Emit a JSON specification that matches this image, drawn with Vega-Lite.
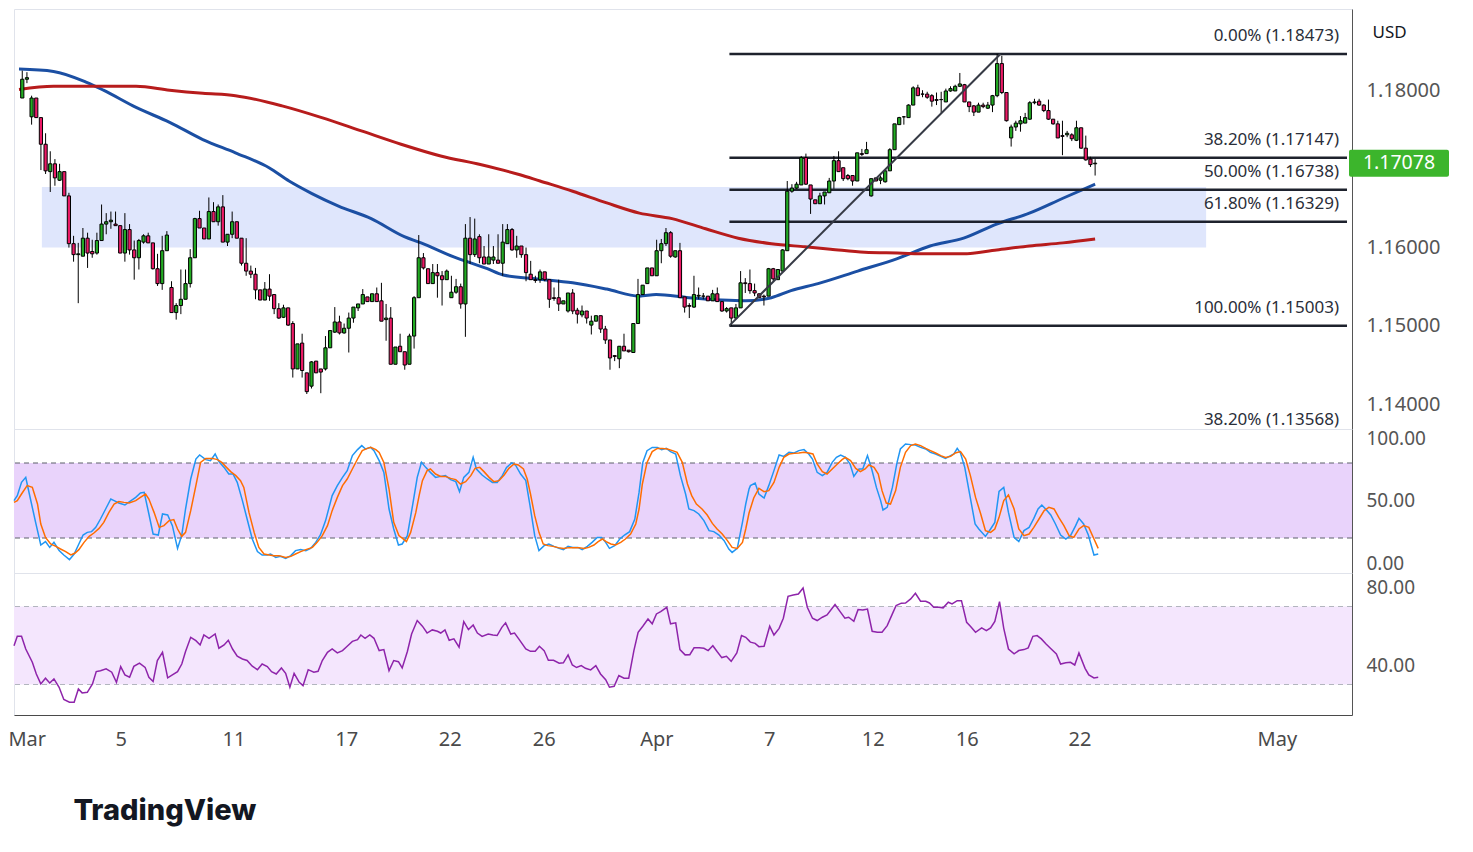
{
  "$schema": "https://vega.github.io/schema/vega-lite/v6.json",
  "background": "white",
  "padding": {"left": 7, "top": 8, "right": 5, "bottom": 5},
  "spacing": 0,
  "bounds": "flush",
  "title": {"text": "TradingView", "orient": "bottom", "anchor": "start", "font": "Inter", "fontSize": 29, "fontWeight": 800, "color": "#131722", "dx": 66, "offset": 47},
  "config": {
    "view": {"stroke": "#e0e3eb"},
    "font": "Noto Sans",
    "axis": {"grid": false, "ticks": false, "labelFont": "Noto Sans", "labelFontSize": 20, "labelColor": "#555555", "domainColor": "#555555", "labelOverlap": false, "labelFlush": false}
  },
  "datasets": {
    "zone": [{"x0": 4.2, "x1": 253.8, "p0": 1.16, "p1": 1.16774}],
    "trend": [{"x0": 151.6, "p0": 1.15003, "x1": 209.7, "p1": 1.18473}],
    "last": [{"p": 1.17078, "t": "1.17078"}],
    "fib": [
      {"from": 151.6, "p": 1.18473, "label": "0.00% (1.18473)"},
      {"from": 151.6, "p": 1.17147, "label": "38.20% (1.17147)"},
      {"from": 151.6, "p": 1.16738, "label": "50.00% (1.16738)"},
      {"from": 151.6, "p": 1.16329, "label": "61.80% (1.16329)"},
      {"from": 151.6, "p": 1.15003, "label": "100.00% (1.15003)"},
      {"from": 151.6, "p": 1.13568, "label": "38.20% (1.13568)"}
    ],
    "ma": [
      {"i": -0.7, "p": 1.1828, "s": "MA100"}, {"i": 6.7, "p": 1.1825, "s": "MA100"}, {"i": 13.8, "p": 1.1811, "s": "MA100"}, {"i": 17.4, "p": 1.1801, "s": "MA100"},
      {"i": 24.4, "p": 1.1779, "s": "MA100"}, {"i": 31.6, "p": 1.176, "s": "MA100"}, {"i": 38.7, "p": 1.1738, "s": "MA100"}, {"i": 45.7, "p": 1.1721, "s": "MA100"},
      {"i": 52.9, "p": 1.1702, "s": "MA100"}, {"i": 57.2, "p": 1.1685, "s": "MA100"}, {"i": 62.1, "p": 1.1669, "s": "MA100"}, {"i": 67.8, "p": 1.1653, "s": "MA100"},
      {"i": 74.8, "p": 1.1637, "s": "MA100"}, {"i": 81.9, "p": 1.1614, "s": "MA100"}, {"i": 85.5, "p": 1.1606, "s": "MA100"}, {"i": 92.5, "p": 1.1588, "s": "MA100"},
      {"i": 99.7, "p": 1.1573, "s": "MA100"}, {"i": 103.1, "p": 1.1565, "s": "MA100"}, {"i": 110.4, "p": 1.156, "s": "MA100"}, {"i": 118, "p": 1.1555, "s": "MA100"},
      {"i": 125.3, "p": 1.1547, "s": "MA100"}, {"i": 132.3, "p": 1.1538, "s": "MA100"}, {"i": 135.9, "p": 1.154, "s": "MA100"}, {"i": 142.9, "p": 1.1536, "s": "MA100"},
      {"i": 149.9, "p": 1.1533, "s": "MA100"}, {"i": 155, "p": 1.1532, "s": "MA100"}, {"i": 160.6, "p": 1.1536, "s": "MA100"}, {"i": 164.8, "p": 1.1545, "s": "MA100"},
      {"i": 170.6, "p": 1.1554, "s": "MA100"}, {"i": 179.1, "p": 1.157, "s": "MA100"}, {"i": 187.6, "p": 1.1586, "s": "MA100"}, {"i": 194.6, "p": 1.1602, "s": "MA100"},
      {"i": 201.8, "p": 1.1612, "s": "MA100"}, {"i": 208.9, "p": 1.163, "s": "MA100"}, {"i": 215.9, "p": 1.1644, "s": "MA100"}, {"i": 223.1, "p": 1.1663, "s": "MA100"},
      {"i": 230, "p": 1.1681, "s": "MA100"},
      {"i": -0.7, "p": 1.1802, "s": "MA200"}, {"i": 6.7, "p": 1.1806, "s": "MA200"}, {"i": 17.4, "p": 1.1806, "s": "MA200"}, {"i": 24.4, "p": 1.1806, "s": "MA200"},
      {"i": 31.6, "p": 1.1801, "s": "MA200"}, {"i": 38.7, "p": 1.1797, "s": "MA200"}, {"i": 45.7, "p": 1.1794, "s": "MA200"}, {"i": 55.7, "p": 1.1781, "s": "MA200"},
      {"i": 64.2, "p": 1.1766, "s": "MA200"}, {"i": 72.7, "p": 1.1749, "s": "MA200"}, {"i": 81.2, "p": 1.1732, "s": "MA200"}, {"i": 89.7, "p": 1.1717, "s": "MA200"},
      {"i": 98.2, "p": 1.1706, "s": "MA200"}, {"i": 106.7, "p": 1.1693, "s": "MA200"}, {"i": 111, "p": 1.1685, "s": "MA200"}, {"i": 118, "p": 1.1672, "s": "MA200"},
      {"i": 125.3, "p": 1.1657, "s": "MA200"}, {"i": 132.3, "p": 1.1644, "s": "MA200"}, {"i": 139.3, "p": 1.1637, "s": "MA200"}, {"i": 146.5, "p": 1.1624, "s": "MA200"},
      {"i": 153.5, "p": 1.1612, "s": "MA200"}, {"i": 160.6, "p": 1.1605, "s": "MA200"}, {"i": 167.8, "p": 1.1601, "s": "MA200"}, {"i": 173.3, "p": 1.1598, "s": "MA200"},
      {"i": 180.6, "p": 1.1594, "s": "MA200"}, {"i": 187.6, "p": 1.1593, "s": "MA200"}, {"i": 194.6, "p": 1.1592, "s": "MA200"}, {"i": 201.8, "p": 1.1592, "s": "MA200"},
      {"i": 208.9, "p": 1.1597, "s": "MA200"}, {"i": 215.9, "p": 1.1602, "s": "MA200"}, {"i": 223.1, "p": 1.1606, "s": "MA200"}, {"i": 230, "p": 1.1611, "s": "MA200"}
    ],
    "candles": [
      {"i":0,"o":1.1791,"h":1.1826,"l":1.1791,"c":1.1815},{"i":1,"o":1.1815,"h":1.1824,"l":1.181,"c":1.1817},{"i":2,"o":1.1767,"h":1.1794,"l":1.1757,"c":1.1791},
      {"i":3,"o":1.1791,"h":1.1791,"l":1.1766,"c":1.1766},{"i":4,"o":1.1766,"h":1.1766,"l":1.1699,"c":1.1732},{"i":5,"o":1.1732,"h":1.1746,"l":1.1694,"c":1.1698},
      {"i":6,"o":1.1697,"h":1.1723,"l":1.1671,"c":1.1707},{"i":7,"o":1.1707,"h":1.1713,"l":1.1679,"c":1.1689},{"i":8,"o":1.1686,"h":1.1707,"l":1.1685,"c":1.1697},
      {"i":9,"o":1.1697,"h":1.1697,"l":1.1666,"c":1.1666},{"i":10,"o":1.1666,"h":1.167,"l":1.16,"c":1.1605},{"i":11,"o":1.1605,"h":1.1615,"l":1.1582,"c":1.1591},
      {"i":12,"o":1.1591,"h":1.1606,"l":1.1529,"c":1.1592},{"i":13,"o":1.1589,"h":1.1625,"l":1.1589,"c":1.1612},{"i":14,"o":1.1612,"h":1.1619,"l":1.1574,"c":1.1593},
      {"i":15,"o":1.1595,"h":1.161,"l":1.1587,"c":1.1592},{"i":16,"o":1.1593,"h":1.1619,"l":1.1591,"c":1.1609},{"i":17,"o":1.1609,"h":1.1655,"l":1.1609,"c":1.163},
      {"i":18,"o":1.163,"h":1.1644,"l":1.1617,"c":1.1633},{"i":19,"o":1.1633,"h":1.1646,"l":1.1624,"c":1.1635},{"i":20,"o":1.163,"h":1.1646,"l":1.1628,"c":1.1628},
      {"i":21,"o":1.1628,"h":1.1628,"l":1.1593,"c":1.1593},{"i":22,"o":1.1593,"h":1.1644,"l":1.1582,"c":1.1623},{"i":23,"o":1.1623,"h":1.163,"l":1.1591,"c":1.1597},
      {"i":24,"o":1.1597,"h":1.1609,"l":1.1559,"c":1.1587},{"i":25,"o":1.1587,"h":1.1611,"l":1.1572,"c":1.1609},{"i":26,"o":1.1607,"h":1.1617,"l":1.1605,"c":1.1615},
      {"i":27,"o":1.1615,"h":1.1619,"l":1.1606,"c":1.1606},{"i":28,"o":1.1606,"h":1.1606,"l":1.1572,"c":1.1573},{"i":29,"o":1.1573,"h":1.1592,"l":1.1551,"c":1.1554},
      {"i":30,"o":1.1554,"h":1.1615,"l":1.1546,"c":1.1596},{"i":31,"o":1.1596,"h":1.1621,"l":1.1596,"c":1.1616},{"i":32,"o":1.1549,"h":1.1557,"l":1.1517,"c":1.1517},
      {"i":33,"o":1.1517,"h":1.1529,"l":1.1508,"c":1.1526},{"i":34,"o":1.1526,"h":1.1572,"l":1.1515,"c":1.1534},{"i":35,"o":1.1534,"h":1.1572,"l":1.1534,"c":1.1554},
      {"i":36,"o":1.1554,"h":1.1598,"l":1.1549,"c":1.1587},{"i":37,"o":1.1587,"h":1.1638,"l":1.1587,"c":1.1637},{"i":38,"o":1.1637,"h":1.1647,"l":1.1625,"c":1.1625},
      {"i":39,"o":1.1625,"h":1.1625,"l":1.1611,"c":1.1611},{"i":40,"o":1.1611,"h":1.1664,"l":1.1611,"c":1.1646},{"i":41,"o":1.1646,"h":1.1658,"l":1.1633,"c":1.1633},
      {"i":42,"o":1.1633,"h":1.1655,"l":1.1628,"c":1.1652},{"i":43,"o":1.1652,"h":1.1667,"l":1.1607,"c":1.1607},{"i":44,"o":1.1607,"h":1.1617,"l":1.1602,"c":1.1617},
      {"i":45,"o":1.1617,"h":1.1646,"l":1.1612,"c":1.1633},{"i":46,"o":1.1633,"h":1.1633,"l":1.1612,"c":1.1612},{"i":47,"o":1.1612,"h":1.1612,"l":1.1577,"c":1.158},
      {"i":48,"o":1.158,"h":1.1612,"l":1.1564,"c":1.157},{"i":49,"o":1.157,"h":1.1577,"l":1.1561,"c":1.1566},{"i":50,"o":1.1566,"h":1.1574,"l":1.1534,"c":1.1546},
      {"i":51,"o":1.1546,"h":1.1546,"l":1.1533,"c":1.1533},{"i":52,"o":1.1533,"h":1.1556,"l":1.1533,"c":1.1547},{"i":53,"o":1.1547,"h":1.1566,"l":1.1532,"c":1.1538},
      {"i":54,"o":1.154,"h":1.154,"l":1.1515,"c":1.1522},{"i":55,"o":1.1522,"h":1.1529,"l":1.1509,"c":1.151},{"i":56,"o":1.1511,"h":1.1527,"l":1.151,"c":1.1523},
      {"i":57,"o":1.1523,"h":1.1523,"l":1.15,"c":1.1501},{"i":58,"o":1.1503,"h":1.1506,"l":1.1434,"c":1.1445},{"i":59,"o":1.1445,"h":1.1477,"l":1.1445,"c":1.1477},
      {"i":60,"o":1.1478,"h":1.149,"l":1.1434,"c":1.1443},{"i":61,"o":1.144,"h":1.144,"l":1.1413,"c":1.1416},{"i":62,"o":1.1423,"h":1.1455,"l":1.142,"c":1.1454},
      {"i":63,"o":1.1455,"h":1.1455,"l":1.144,"c":1.144},{"i":64,"o":1.1445,"h":1.1445,"l":1.1414,"c":1.1441},{"i":65,"o":1.1445,"h":1.1487,"l":1.1443,"c":1.1472},
      {"i":66,"o":1.1472,"h":1.1494,"l":1.1472,"c":1.1494},{"i":67,"o":1.1492,"h":1.1524,"l":1.1491,"c":1.1505},{"i":68,"o":1.1505,"h":1.1513,"l":1.1489,"c":1.1491},
      {"i":69,"o":1.1491,"h":1.1503,"l":1.149,"c":1.1497},{"i":70,"o":1.1497,"h":1.1517,"l":1.1466,"c":1.151},{"i":71,"o":1.151,"h":1.1524,"l":1.1504,"c":1.1524},
      {"i":72,"o":1.1523,"h":1.1528,"l":1.1519,"c":1.1528},{"i":73,"o":1.1528,"h":1.1547,"l":1.1528,"c":1.154},{"i":74,"o":1.1537,"h":1.1537,"l":1.1531,"c":1.1531},
      {"i":75,"o":1.1531,"h":1.1541,"l":1.1531,"c":1.1541},{"i":76,"o":1.1541,"h":1.1549,"l":1.1531,"c":1.1531},{"i":77,"o":1.1532,"h":1.1555,"l":1.1506,"c":1.1506},
      {"i":78,"o":1.1508,"h":1.1528,"l":1.1481,"c":1.151},{"i":79,"o":1.151,"h":1.1524,"l":1.1451,"c":1.1451},{"i":80,"o":1.1451,"h":1.1473,"l":1.1451,"c":1.1473},
      {"i":81,"o":1.1474,"h":1.149,"l":1.1467,"c":1.1467},{"i":82,"o":1.1467,"h":1.1467,"l":1.1444,"c":1.145},{"i":83,"o":1.1451,"h":1.149,"l":1.1451,"c":1.1487},
      {"i":84,"o":1.1487,"h":1.1538,"l":1.1471,"c":1.1536},{"i":85,"o":1.1536,"h":1.1616,"l":1.1536,"c":1.1587},{"i":86,"o":1.1587,"h":1.1593,"l":1.1572,"c":1.1574},
      {"i":87,"o":1.1573,"h":1.1573,"l":1.1554,"c":1.1554},{"i":88,"o":1.1554,"h":1.1579,"l":1.1554,"c":1.1568},{"i":89,"o":1.1568,"h":1.1579,"l":1.1536,"c":1.1564},
      {"i":90,"o":1.1564,"h":1.157,"l":1.1526,"c":1.1559},{"i":91,"o":1.1559,"h":1.1572,"l":1.1559,"c":1.157},{"i":92,"o":1.1536,"h":1.1564,"l":1.1536,"c":1.1543},
      {"i":93,"o":1.1543,"h":1.156,"l":1.1541,"c":1.155},{"i":94,"o":1.155,"h":1.1554,"l":1.1522,"c":1.1528},{"i":95,"o":1.1528,"h":1.163,"l":1.1486,"c":1.1612},
      {"i":96,"o":1.1612,"h":1.1639,"l":1.1579,"c":1.1591},{"i":97,"o":1.1591,"h":1.1637,"l":1.1588,"c":1.1611},{"i":98,"o":1.1614,"h":1.1617,"l":1.158,"c":1.1587},
      {"i":99,"o":1.1588,"h":1.1602,"l":1.1579,"c":1.1579},{"i":100,"o":1.1579,"h":1.1617,"l":1.1579,"c":1.1588},{"i":101,"o":1.1584,"h":1.1602,"l":1.1579,"c":1.1588},
      {"i":102,"o":1.1584,"h":1.1617,"l":1.158,"c":1.158},{"i":103,"o":1.158,"h":1.163,"l":1.1564,"c":1.1607},{"i":104,"o":1.1605,"h":1.163,"l":1.1605,"c":1.1623},
      {"i":105,"o":1.1623,"h":1.1625,"l":1.1596,"c":1.1597},{"i":106,"o":1.1597,"h":1.1615,"l":1.1587,"c":1.1602},{"i":107,"o":1.1602,"h":1.1602,"l":1.1587,"c":1.1591},
      {"i":108,"o":1.1591,"h":1.16,"l":1.1557,"c":1.1568},{"i":109,"o":1.1566,"h":1.1583,"l":1.1559,"c":1.1559},{"i":110,"o":1.1559,"h":1.1564,"l":1.1555,"c":1.1558},
      {"i":111,"o":1.1559,"h":1.1572,"l":1.1555,"c":1.1569},{"i":112,"o":1.1569,"h":1.1569,"l":1.1557,"c":1.1559},{"i":113,"o":1.1559,"h":1.1559,"l":1.1523,"c":1.1534},
      {"i":114,"o":1.1536,"h":1.1549,"l":1.1532,"c":1.1535},{"i":115,"o":1.1536,"h":1.1559,"l":1.1519,"c":1.1528},{"i":116,"o":1.1528,"h":1.1532,"l":1.1528,"c":1.1532},
      {"i":117,"o":1.1519,"h":1.1542,"l":1.1517,"c":1.1542},{"i":118,"o":1.1542,"h":1.1547,"l":1.1515,"c":1.1519},{"i":119,"o":1.152,"h":1.1523,"l":1.1503,"c":1.1515},
      {"i":120,"o":1.1514,"h":1.1526,"l":1.1511,"c":1.1519},{"i":121,"o":1.1519,"h":1.1519,"l":1.1503,"c":1.151},{"i":122,"o":1.1501,"h":1.1513,"l":1.1489,"c":1.1506},
      {"i":123,"o":1.1506,"h":1.1513,"l":1.1506,"c":1.1513},{"i":124,"o":1.1513,"h":1.1513,"l":1.1491,"c":1.1496},{"i":125,"o":1.1496,"h":1.15,"l":1.1477,"c":1.1482},
      {"i":126,"o":1.1482,"h":1.1482,"l":1.1444,"c":1.1459},{"i":127,"o":1.1462,"h":1.1462,"l":1.1455,"c":1.1461},{"i":128,"o":1.1458,"h":1.1474,"l":1.1446,"c":1.1474},
      {"i":129,"o":1.1474,"h":1.149,"l":1.1468,"c":1.1468},{"i":130,"o":1.1469,"h":1.1469,"l":1.1466,"c":1.1467},{"i":131,"o":1.1466,"h":1.1503,"l":1.1466,"c":1.1503},
      {"i":132,"o":1.1503,"h":1.156,"l":1.1503,"c":1.154},{"i":133,"o":1.154,"h":1.1552,"l":1.154,"c":1.1552},{"i":134,"o":1.1554,"h":1.1574,"l":1.1554,"c":1.1574},
      {"i":135,"o":1.1574,"h":1.1574,"l":1.1564,"c":1.1564},{"i":136,"o":1.1564,"h":1.161,"l":1.1564,"c":1.1596},{"i":137,"o":1.1596,"h":1.1611,"l":1.158,"c":1.1605},
      {"i":138,"o":1.1605,"h":1.1625,"l":1.1602,"c":1.1619},{"i":139,"o":1.1619,"h":1.1621,"l":1.1587,"c":1.1589},{"i":140,"o":1.1588,"h":1.1596,"l":1.1587,"c":1.1596},
      {"i":141,"o":1.1596,"h":1.1606,"l":1.1536,"c":1.1536},{"i":142,"o":1.1537,"h":1.1537,"l":1.1517,"c":1.1524},{"i":143,"o":1.1526,"h":1.1529,"l":1.151,"c":1.1525},
      {"i":144,"o":1.1524,"h":1.1564,"l":1.1523,"c":1.154},{"i":145,"o":1.1538,"h":1.1549,"l":1.1534,"c":1.1539},{"i":146,"o":1.1538,"h":1.1542,"l":1.1534,"c":1.1538},
      {"i":147,"o":1.1538,"h":1.1538,"l":1.1532,"c":1.1532},{"i":148,"o":1.1532,"h":1.1546,"l":1.1532,"c":1.1541},{"i":149,"o":1.1541,"h":1.1549,"l":1.1531,"c":1.1531},
      {"i":150,"o":1.1531,"h":1.1531,"l":1.1518,"c":1.1519},{"i":151,"o":1.1519,"h":1.1524,"l":1.1517,"c":1.1522},{"i":152,"o":1.1523,"h":1.1523,"l":1.15,"c":1.151},
      {"i":153,"o":1.151,"h":1.1528,"l":1.1509,"c":1.1523},{"i":154,"o":1.1523,"h":1.157,"l":1.1523,"c":1.1555},{"i":155,"o":1.1555,"h":1.1561,"l":1.1542,"c":1.1554},
      {"i":156,"o":1.1554,"h":1.1572,"l":1.1541,"c":1.1545},{"i":157,"o":1.1545,"h":1.1554,"l":1.1538,"c":1.1542},{"i":158,"o":1.1541,"h":1.1541,"l":1.1536,"c":1.1536},
      {"i":159,"o":1.1538,"h":1.154,"l":1.1526,"c":1.1537},{"i":160,"o":1.1538,"h":1.1574,"l":1.1538,"c":1.1573},{"i":161,"o":1.1573,"h":1.1574,"l":1.1557,"c":1.156},
      {"i":162,"o":1.1559,"h":1.1572,"l":1.1559,"c":1.1572},{"i":163,"o":1.157,"h":1.1598,"l":1.157,"c":1.1597},{"i":164,"o":1.1596,"h":1.1685,"l":1.1596,"c":1.1672},
      {"i":165,"o":1.1672,"h":1.1681,"l":1.167,"c":1.1676},{"i":166,"o":1.1676,"h":1.1684,"l":1.1675,"c":1.1681},{"i":167,"o":1.168,"h":1.1717,"l":1.168,"c":1.1715},
      {"i":168,"o":1.1715,"h":1.172,"l":1.168,"c":1.1681},{"i":169,"o":1.168,"h":1.168,"l":1.1643,"c":1.1662},{"i":170,"o":1.1661,"h":1.1661,"l":1.1656,"c":1.1656},
      {"i":171,"o":1.1656,"h":1.167,"l":1.1656,"c":1.1666},{"i":172,"o":1.1666,"h":1.1671,"l":1.1655,"c":1.1671},{"i":173,"o":1.167,"h":1.1689,"l":1.167,"c":1.1685},
      {"i":174,"o":1.1685,"h":1.1717,"l":1.1675,"c":1.1711},{"i":175,"o":1.1711,"h":1.1723,"l":1.1697,"c":1.1697},{"i":176,"o":1.1702,"h":1.1702,"l":1.1685,"c":1.1688},
      {"i":177,"o":1.1692,"h":1.1694,"l":1.1686,"c":1.1688},{"i":178,"o":1.1692,"h":1.1692,"l":1.1679,"c":1.1685},{"i":179,"o":1.1685,"h":1.1721,"l":1.1685,"c":1.1721},
      {"i":180,"o":1.172,"h":1.1726,"l":1.1717,"c":1.1719},{"i":181,"o":1.172,"h":1.1735,"l":1.172,"c":1.1725},{"i":182,"o":1.1666,"h":1.1688,"l":1.1665,"c":1.1688},
      {"i":183,"o":1.1689,"h":1.1689,"l":1.1685,"c":1.1685},{"i":184,"o":1.1686,"h":1.1692,"l":1.1681,"c":1.1689},{"i":185,"o":1.1684,"h":1.1699,"l":1.1683,"c":1.1698},
      {"i":186,"o":1.1698,"h":1.1727,"l":1.1698,"c":1.1725},{"i":187,"o":1.1725,"h":1.1758,"l":1.1725,"c":1.1758},{"i":188,"o":1.1757,"h":1.1767,"l":1.1757,"c":1.1766},
      {"i":189,"o":1.1767,"h":1.1768,"l":1.1757,"c":1.1767},{"i":190,"o":1.1766,"h":1.1783,"l":1.1766,"c":1.1782},{"i":191,"o":1.1782,"h":1.1806,"l":1.1782,"c":1.1804},
      {"i":192,"o":1.1804,"h":1.1808,"l":1.1794,"c":1.1794},{"i":193,"o":1.1796,"h":1.1801,"l":1.1792,"c":1.1796},{"i":194,"o":1.1796,"h":1.1799,"l":1.179,"c":1.1792},
      {"i":195,"o":1.1794,"h":1.1796,"l":1.178,"c":1.1787},{"i":196,"o":1.1789,"h":1.1798,"l":1.1782,"c":1.1788},{"i":197,"o":1.1789,"h":1.1799,"l":1.1772,"c":1.1789},
      {"i":198,"o":1.1786,"h":1.1803,"l":1.1786,"c":1.18},{"i":199,"o":1.18,"h":1.1806,"l":1.1799,"c":1.1803},{"i":200,"o":1.18,"h":1.1808,"l":1.18,"c":1.1806},
      {"i":201,"o":1.1806,"h":1.1823,"l":1.1805,"c":1.1809},{"i":202,"o":1.1808,"h":1.1809,"l":1.1786,"c":1.1786},{"i":203,"o":1.1786,"h":1.1786,"l":1.1773,"c":1.178},
      {"i":204,"o":1.1781,"h":1.1782,"l":1.1768,"c":1.1773},{"i":205,"o":1.1773,"h":1.1785,"l":1.1773,"c":1.1782},{"i":206,"o":1.1782,"h":1.1785,"l":1.1778,"c":1.178},
      {"i":207,"o":1.1778,"h":1.1786,"l":1.1777,"c":1.1782},{"i":208,"o":1.1782,"h":1.1795,"l":1.1773,"c":1.1794},{"i":209,"o":1.1794,"h":1.18473,"l":1.1792,"c":1.1835},
      {"i":210,"o":1.1835,"h":1.1845,"l":1.1796,"c":1.1798},{"i":211,"o":1.1798,"h":1.1798,"l":1.1761,"c":1.1762},{"i":212,"o":1.174,"h":1.1757,"l":1.1729,"c":1.1754},
      {"i":213,"o":1.1754,"h":1.1762,"l":1.1749,"c":1.1759},{"i":214,"o":1.1758,"h":1.1768,"l":1.1748,"c":1.1762},{"i":215,"o":1.1759,"h":1.1772,"l":1.1759,"c":1.1766},
      {"i":216,"o":1.1764,"h":1.1787,"l":1.1763,"c":1.1785},{"i":217,"o":1.1785,"h":1.179,"l":1.1783,"c":1.1786},{"i":218,"o":1.1787,"h":1.179,"l":1.1781,"c":1.1782},
      {"i":219,"o":1.1782,"h":1.1783,"l":1.1773,"c":1.1775},{"i":220,"o":1.1775,"h":1.1789,"l":1.1763,"c":1.1764},{"i":221,"o":1.1764,"h":1.1764,"l":1.1757,"c":1.1758},
      {"i":222,"o":1.1758,"h":1.1762,"l":1.174,"c":1.174},{"i":223,"o":1.1743,"h":1.1762,"l":1.1718,"c":1.1742},{"i":224,"o":1.1744,"h":1.1749,"l":1.1741,"c":1.1746},
      {"i":225,"o":1.1744,"h":1.1746,"l":1.1736,"c":1.1739},{"i":226,"o":1.1737,"h":1.1762,"l":1.1736,"c":1.1753},{"i":227,"o":1.1753,"h":1.1753,"l":1.1726,"c":1.1727},
      {"i":228,"o":1.1727,"h":1.1743,"l":1.1711,"c":1.1712},{"i":229,"o":1.1713,"h":1.1716,"l":1.1703,"c":1.1706},{"i":230,"o":1.1707,"h":1.1713,"l":1.1692,"c":1.17078}
    ],
    "k": [
      {"i":-0.7,"v":49.9},{"i":0,"v":53.9},{"i":0.9,"v":64.5},{"i":1.8,"v":68.5},{"i":2.8,"v":51.2},{"i":3.9,"v":32.5},{"i":5,"v":14.4},{"i":6,"v":17.1},{"i":6.9,"v":12.5},{"i":7.8,"v":16.5},
      {"i":8.9,"v":9.9},{"i":9.9,"v":6.4},{"i":11.1,"v":2.7},{"i":12.1,"v":7.2},{"i":13.1,"v":15.2},{"i":14,"v":22.4},{"i":14.9,"v":24.5},{"i":15.8,"v":25.1},{"i":16.7,"v":28.5},{"i":17.7,"v":35.2},
      {"i":18.8,"v":43.2},{"i":19.9,"v":51.2},{"i":20.6,"v":49.9},{"i":21.6,"v":48},{"i":22.9,"v":46.4},{"i":23.9,"v":49.1},{"i":25.2,"v":52.5},{"i":26.2,"v":56},{"i":27,"v":56.5},{"i":28,"v":39.2},
      {"i":28.9,"v":23.2},{"i":30,"v":22.4},{"i":30.9,"v":39.2},{"i":32,"v":38.4},{"i":33,"v":29.9},{"i":34.1,"v":11.7},{"i":35,"v":22.4},{"i":35.8,"v":43.2},{"i":36.9,"v":67.2},{"i":38,"v":83.2},
      {"i":38.8,"v":86.4},{"i":40.1,"v":82.7},{"i":41.1,"v":81.9},{"i":42.1,"v":87.2},{"i":42.9,"v":81.1},{"i":44,"v":76.5},{"i":45,"v":71.2},{"i":45.9,"v":71.2},{"i":46.8,"v":64.5},{"i":47.9,"v":49.9},
      {"i":48.9,"v":35.2},{"i":50,"v":19.2},{"i":51.1,"v":9.1},{"i":52.1,"v":6.4},{"i":53.2,"v":6.4},{"i":53.9,"v":7.2},{"i":55,"v":4.5},{"i":56,"v":5.3},{"i":57.1,"v":3.7},{"i":58.2,"v":5.9},
      {"i":59.2,"v":9.9},{"i":60.3,"v":10.7},{"i":61.4,"v":9.9},{"i":62.4,"v":11.7},{"i":63.5,"v":16.5},{"i":64.5,"v":22.4},{"i":65.6,"v":33.9},{"i":67,"v":53.9},{"i":68.1,"v":61.9},{"i":69.2,"v":68.5},
      {"i":70.2,"v":73.9},{"i":71.3,"v":85.9},{"i":72.4,"v":90.7},{"i":73.3,"v":93.9},{"i":74.1,"v":91.2},{"i":75.2,"v":92.5},{"i":75.9,"v":89.9},{"i":77,"v":81.9},
      {"i":78,"v":72.5},{"i":79.1,"v":43.2},{"i":80.1,"v":27.2},{"i":81.1,"v":14.4},{"i":81.9,"v":15.2},{"i":83,"v":21.9},{"i":84.1,"v":45.9},{"i":85.1,"v":68.5},{"i":86,"v":80.5},{"i":86.9,"v":76.5},
      {"i":87.9,"v":72.5},{"i":89,"v":68.5},{"i":90.1,"v":69.3},{"i":91.1,"v":69.9},{"i":92.2,"v":66.7},{"i":93.3,"v":65.1},{"i":94.1,"v":57.1},{"i":95,"v":68.5},{"i":96.1,"v":72.5},{"i":97,"v":84.5},
      {"i":97.7,"v":75.2},{"i":98.9,"v":70.4},{"i":100,"v":67.2},{"i":101.1,"v":64.5},{"i":102.1,"v":64.5},{"i":103.2,"v":69.9},{"i":104.1,"v":76.5},{"i":105.2,"v":80},{"i":106,"v":78.4},{"i":107.1,"v":71.2},
      {"i":108.2,"v":65.9},{"i":109.1,"v":45.9},{"i":110.1,"v":21.9},{"i":111,"v":9.9},{"i":112.1,"v":13.9},{"i":113.1,"v":15.2},{"i":114.2,"v":13.3},{"i":115.3,"v":11.7},{"i":116.2,"v":10.7},{"i":117.2,"v":13.3},
      {"i":118.2,"v":12.5},{"i":119.3,"v":12.5},{"i":120.2,"v":10.7},{"i":121.3,"v":13.3},{"i":122.3,"v":16.5},{"i":123.4,"v":20.5},{"i":124.3,"v":20.5},{"i":125.2,"v":16.5},{"i":126,"v":11.7},{"i":127.1,"v":13.9},
      {"i":128.2,"v":19.2},{"i":129.2,"v":22.4},{"i":130.3,"v":25.1},{"i":131.4,"v":35.2},{"i":132.3,"v":56.5},{"i":133.1,"v":80.5},{"i":134,"v":89.9},{"i":135.1,"v":92.5},{"i":136.2,"v":92.5},{"i":137.1,"v":90.7},
      {"i":138.1,"v":91.7},{"i":139,"v":89.1},{"i":140.1,"v":87.2},{"i":141.1,"v":69.9},{"i":142.2,"v":55.2},{"i":142.9,"v":43.2},{"i":144,"v":41.9},{"i":145,"v":39.2},{"i":146.1,"v":33.9},{"i":147.2,"v":25.9},
      {"i":148.2,"v":25.1},{"i":149.3,"v":22.4},{"i":150.4,"v":17.9},{"i":151.4,"v":11.2},{"i":152.1,"v":8.5},{"i":153.2,"v":11.7},{"i":154.3,"v":32.5},{"i":155,"v":47.2},{"i":155.7,"v":59.2},
      {"i":156,"v":61.9},{"i":157,"v":64},{"i":157.8,"v":55.2},{"i":158.9,"v":52},{"i":159.9,"v":61.9},{"i":161,"v":73.9},{"i":162.1,"v":86.4},{"i":163.1,"v":85.3},{"i":164.2,"v":88.5},{"i":165.3,"v":88},
      {"i":166.3,"v":89.9},{"i":167.4,"v":90.7},{"i":168.4,"v":87.2},{"i":169.2,"v":83.2},{"i":170.2,"v":72.5},{"i":171.3,"v":69.9},{"i":172.3,"v":72.5},{"i":173.4,"v":80.5},{"i":174.3,"v":84.5},{"i":175.2,"v":86.4},
      {"i":176.2,"v":84.5},{"i":177.2,"v":79.2},{"i":178,"v":69.3},{"i":179.1,"v":75.2},{"i":179.9,"v":75.2},{"i":180.9,"v":85.9},{"i":181.8,"v":75.2},{"i":182.8,"v":60.5},{"i":183.7,"v":49.9},{"i":184.2,"v":42.4},
      {"i":185.1,"v":44.5},{"i":186.2,"v":60.5},{"i":187.2,"v":80.5},{"i":187.9,"v":91.2},{"i":189,"v":95.2},{"i":190.1,"v":94.7},{"i":191.1,"v":94.4},{"i":192.2,"v":92.5},{"i":193.3,"v":91.2},{"i":194.3,"v":88.5},
      {"i":195.4,"v":87.2},{"i":196.5,"v":85.3},{"i":197.5,"v":83.7},{"i":198.6,"v":85.9},{"i":199.3,"v":87.2},{"i":200,"v":91.7},{"i":200.7,"v":88},{"i":201.6,"v":76.5},{"i":202.7,"v":53.9},{"i":203.8,"v":31.2},
      {"i":204.6,"v":27.2},{"i":206,"v":21.3},{"i":207.1,"v":27.2},{"i":208,"v":32.5},{"i":208.9,"v":57.3},{"i":209.9,"v":60.5},{"i":210.9,"v":40.5},{"i":212.1,"v":20.5},{"i":213.1,"v":17.1},{"i":214.2,"v":25.9},
      {"i":215.3,"v":28.5},{"i":216.3,"v":35.7},{"i":217.2,"v":43.2},{"i":218,"v":46.4},{"i":218.8,"v":43.2},{"i":219.9,"v":38.4},{"i":220.9,"v":31.2},{"i":222,"v":22.4},{"i":223.1,"v":19.2},{"i":224.1,"v":21.9},
      {"i":225.2,"v":29.9},{"i":225.9,"v":35.7},{"i":226.9,"v":31.2},{"i":227.9,"v":22.4},{"i":229.1,"v":6.4},{"i":230,"v":7.2}
    ],
    "d": [
      {"i":-0.7,"v":48.5},{"i":0,"v":49.9},{"i":0.9,"v":55.2},{"i":2.1,"v":61.9},{"i":3.2,"v":60.5},{"i":4.3,"v":47.2},{"i":5,"v":31.2},{"i":6,"v":20.5},{"i":7.1,"v":15.2},{"i":8.2,"v":13.3},
      {"i":9.2,"v":11.2},{"i":10.3,"v":9.1},{"i":11.4,"v":6.4},{"i":12.3,"v":8},{"i":13.1,"v":10.7},{"i":14.2,"v":16.5},{"i":15.3,"v":21.3},{"i":16.3,"v":24},{"i":17.4,"v":27.7},{"i":18.4,"v":32.5},
      {"i":19.5,"v":40.5},{"i":20.6,"v":47.2},{"i":21.6,"v":49.1},{"i":22.7,"v":48.5},{"i":23.8,"v":48},{"i":25.2,"v":49.9},{"i":26.2,"v":52.5},{"i":27.3,"v":55.2},{"i":28,"v":51.2},{"i":29.1,"v":40.5},
      {"i":30.2,"v":28.5},{"i":31.2,"v":29.9},{"i":32.3,"v":33.9},{"i":33.3,"v":34.7},{"i":34.1,"v":27.2},{"i":35,"v":21.3},{"i":35.8,"v":24.5},{"i":36.9,"v":41.9},{"i":38,"v":61.9},{"i":39,"v":80.5},
      {"i":40.1,"v":83.7},{"i":41.5,"v":83.7},{"i":42.6,"v":82.7},{"i":43.5,"v":80.5},{"i":44.3,"v":77.3},{"i":45.4,"v":73.1},{"i":46.5,"v":69.9},{"i":47.5,"v":65.9},{"i":48.2,"v":60.5},{"i":49.3,"v":40.5},
      {"i":50.4,"v":24.5},{"i":51.4,"v":12.5},{"i":52.5,"v":7.2},{"i":53.6,"v":6.4},{"i":54.6,"v":5.9},{"i":55.7,"v":5.9},{"i":57.1,"v":4.5},{"i":58.2,"v":5.3},{"i":59.2,"v":7.2},{"i":60.3,"v":9.1},
      {"i":61.4,"v":10.7},{"i":62.8,"v":12.5},{"i":63.8,"v":16.5},{"i":64.9,"v":21.9},{"i":66,"v":29.9},{"i":67,"v":41.9},{"i":68.1,"v":52.5},{"i":69.2,"v":61.9},{"i":70.2,"v":67.2},{"i":71.3,"v":75.2},
      {"i":72.4,"v":83.2},{"i":73.4,"v":89.9},{"i":74.5,"v":91.7},{"i":75.2,"v":92.5},{"i":76.3,"v":90.7},{"i":77,"v":88.5},
      {"i":78,"v":80.5},{"i":79.1,"v":59.2},{"i":80.1,"v":32.5},{"i":81.2,"v":21.9},{"i":82.3,"v":18.7},{"i":82.8,"v":17.1},{"i":83.7,"v":24.5},{"i":84.8,"v":40.5},{"i":85.5,"v":53.9},{"i":86.2,"v":65.9},
      {"i":87.2,"v":73.9},{"i":87.9,"v":75.2},{"i":89,"v":71.2},{"i":90.1,"v":69.3},{"i":91.1,"v":69.3},{"i":92.2,"v":67.7},{"i":93.3,"v":66.7},{"i":94.3,"v":63.2},{"i":95.4,"v":65.1},{"i":96.5,"v":69.9},
      {"i":97.4,"v":75.7},{"i":98.4,"v":76.5},{"i":99.3,"v":73.1},{"i":100.4,"v":68.5},{"i":101.4,"v":65.1},{"i":102.5,"v":65.9},{"i":103.6,"v":70.4},{"i":104.6,"v":75.7},{"i":105.7,"v":79.2},{"i":106.6,"v":78.4},
      {"i":107.7,"v":75.2},{"i":108.5,"v":67.2},{"i":109.2,"v":55.2},{"i":110.1,"v":37.9},{"i":111,"v":24.5},{"i":111.9,"v":15.2},{"i":112.9,"v":13.9},{"i":114,"v":13.3},{"i":115.1,"v":12.3},{"i":116.2,"v":11.7},
      {"i":117.4,"v":12.3},{"i":118.4,"v":12.3},{"i":119.5,"v":12.3},{"i":120.6,"v":11.7},{"i":121.6,"v":12.5},{"i":122.7,"v":14.4},{"i":123.6,"v":17.1},{"i":124.5,"v":19.2},{"i":125.3,"v":17.1},{"i":126.3,"v":15.2},
      {"i":127.3,"v":14.4},{"i":128.4,"v":16.5},{"i":129.4,"v":19.2},{"i":130.5,"v":23.2},{"i":131.6,"v":31.2},{"i":132.3,"v":43.2},{"i":133,"v":63.2},{"i":134,"v":80.5},{"i":135.1,"v":89.1},{"i":136.2,"v":91.7},
      {"i":137.2,"v":91.7},{"i":138.3,"v":91.2},{"i":139.4,"v":89.9},{"i":140.4,"v":88.5},{"i":141.5,"v":80.5},{"i":142.6,"v":63.2},{"i":143.5,"v":53.9},{"i":144.5,"v":47.2},{"i":145.7,"v":43.2},{"i":146.8,"v":38.4},
      {"i":147.9,"v":31.7},{"i":148.9,"v":27.2},{"i":150,"v":23.2},{"i":151.1,"v":17.9},{"i":152.1,"v":12.5},{"i":153.2,"v":11.7},{"i":154.3,"v":16.5},{"i":155,"v":27.2},{"i":155.7,"v":40},
      {"i":156.7,"v":52},{"i":157.8,"v":59.7},{"i":158.9,"v":57.1},{"i":159.9,"v":57.9},{"i":161,"v":64.5},{"i":162.1,"v":76.5},{"i":163.1,"v":84.5},{"i":164.2,"v":87.2},{"i":165.3,"v":87.7},{"i":166.3,"v":88},
      {"i":167.4,"v":88.5},{"i":168.4,"v":88},{"i":169.3,"v":87.2},{"i":170.2,"v":79.2},{"i":171.3,"v":73.1},{"i":172.3,"v":71.2},{"i":173.4,"v":75.2},{"i":174.5,"v":79.2},{"i":175.5,"v":82.7},{"i":176.2,"v":84.5},
      {"i":177.3,"v":81.9},{"i":178.4,"v":75.7},{"i":179.4,"v":73.1},{"i":180.4,"v":75.2},{"i":181.2,"v":78.4},{"i":182.3,"v":76.5},{"i":183.2,"v":71.2},{"i":184,"v":57.9},{"i":184.9,"v":48},{"i":185.8,"v":47.2},
      {"i":186.9,"v":57.9},{"i":187.9,"v":76.5},{"i":189,"v":88.5},{"i":190.1,"v":93.9},{"i":191.1,"v":95.2},{"i":192.2,"v":93.9},{"i":193.3,"v":91.7},{"i":194.3,"v":89.9},{"i":195.4,"v":88},{"i":196.5,"v":85.9},
      {"i":197.5,"v":84.5},{"i":198.6,"v":85.3},{"i":199.6,"v":88},{"i":200.7,"v":89.1},{"i":201.8,"v":83.2},{"i":202.8,"v":69.9},{"i":203.9,"v":52.5},{"i":205,"v":39.2},{"i":206,"v":25.9},{"i":207.1,"v":24.5},
      {"i":208,"v":27.2},{"i":208.9,"v":36.5},{"i":209.9,"v":49.9},{"i":210.9,"v":54.4},{"i":212.1,"v":43.2},{"i":213.1,"v":27.2},{"i":214.2,"v":21.9},{"i":215.3,"v":23.2},{"i":216.3,"v":28.5},{"i":217.4,"v":35.2},
      {"i":218.5,"v":41.9},{"i":219.5,"v":44.5},{"i":220.6,"v":43.2},{"i":221.6,"v":36.5},{"i":222.7,"v":29.9},{"i":223.8,"v":21.9},{"i":224.8,"v":20.5},{"i":225.9,"v":27.2},{"i":226.9,"v":29.9},{"i":228,"v":28.5},
      {"i":229.1,"v":19.2},{"i":230,"v":11.7}
    ],
    "rsi": [
      {"i":-0.7,"v":49.9},{"i":0,"v":54.7},{"i":0.9,"v":54.7},{"i":1.8,"v":48.2},{"i":3.2,"v":41.4},{"i":4.05,"v":35.4},{"i":5,"v":30.3},{"i":6,"v":33.2},{"i":6.9,"v":30.8},{"i":7.8,"v":32.9},
      {"i":8.9,"v":28.6},{"i":9.9,"v":22.3},{"i":11.1,"v":20.9},{"i":12.1,"v":20.9},{"i":13,"v":27.7},{"i":13.8,"v":25.7},{"i":14.9,"v":26},{"i":16,"v":30.3},{"i":16.8,"v":36.6},{"i":17.7,"v":37.1},
      {"i":18.9,"v":38},{"i":20.1,"v":36.3},{"i":21.1,"v":31.1},{"i":22,"v":39.2},{"i":22.9,"v":34.9},{"i":23.9,"v":33.7},{"i":24.8,"v":39.3},{"i":26,"v":41},{"i":27.2,"v":38.8},{"i":28,"v":33.7},
      {"i":28.9,"v":31.5},{"i":29.8,"v":42.3},{"i":30.9,"v":46.5},{"i":32,"v":33.4},{"i":33,"v":34.9},{"i":34.1,"v":36.6},{"i":35,"v":40.5},{"i":35.8,"v":46.9},{"i":36.9,"v":54.2},{"i":38,"v":52.5},
      {"i":38.9,"v":50.3},{"i":39.7,"v":55.4},{"i":40.8,"v":53.7},{"i":42.1,"v":55.9},{"i":42.9,"v":48.6},{"i":44,"v":50.3},{"i":44.9,"v":52.7},{"i":45.8,"v":48.2},{"i":46.8,"v":44.5},{"i":47.9,"v":43.1},
      {"i":48.9,"v":42.3},{"i":50,"v":39.4},{"i":51.1,"v":37.6},{"i":52.1,"v":40.5},{"i":53.2,"v":39.2},{"i":54.1,"v":36.6},{"i":55.1,"v":35.4},{"i":56.2,"v":38.5},{"i":57.1,"v":35.7},{"i":58,"v":28.6},
      {"i":58.9,"v":35.7},{"i":60,"v":31.1},{"i":60.8,"v":29.4},{"i":61.9,"v":37.6},{"i":63.1,"v":36.3},{"i":64,"v":36.8},{"i":64.9,"v":42.3},{"i":66,"v":46.5},{"i":67,"v":48.2},{"i":68.1,"v":46.2},
      {"i":69.2,"v":47.4},{"i":70.2,"v":49.6},{"i":71.3,"v":52.1},{"i":72.4,"v":53},{"i":73.1,"v":55.4},{"i":74,"v":53.7},{"i":75,"v":55.4},{"i":75.9,"v":53.7},{"i":77,"v":47.4},
      {"i":78,"v":47.9},{"i":79.1,"v":37.1},{"i":80.1,"v":42.3},{"i":81.1,"v":41.7},{"i":81.9,"v":38.5},{"i":83,"v":46.9},{"i":83.9,"v":55.9},{"i":85.1,"v":62.8},{"i":86.2,"v":59.9},{"i":87.2,"v":56.4},
      {"i":88.3,"v":58},{"i":89.4,"v":57.3},{"i":90.1,"v":56.4},{"i":91,"v":58},{"i":91.9,"v":52.7},{"i":92.9,"v":53.4},{"i":94,"v":49.1},{"i":95,"v":62.3},{"i":96,"v":58.2},{"i":97,"v":60.5},
      {"i":97.9,"v":56.4},{"i":98.9,"v":54.7},{"i":100.2,"v":55.9},{"i":101.2,"v":55.4},{"i":102.1,"v":55.1},{"i":103.1,"v":59.3},{"i":103.9,"v":61.6},{"i":105,"v":55.9},{"i":105.8,"v":56.4},{"i":106.7,"v":53.4},
      {"i":108.2,"v":48.2},{"i":109.2,"v":47},{"i":110.2,"v":47},{"i":111.1,"v":49.6},{"i":112.1,"v":47.4},{"i":113,"v":42.4},{"i":114.1,"v":42.4},{"i":115.3,"v":40.9},{"i":116.2,"v":41.1},{"i":117.2,"v":45.2},
      {"i":118.1,"v":40},{"i":119,"v":38.7},{"i":120,"v":39.7},{"i":120.9,"v":38.3},{"i":122,"v":37.5},{"i":123.1,"v":39.7},{"i":124.1,"v":35.4},{"i":125.2,"v":32.5},{"i":126,"v":28.6},{"i":127,"v":29.1},
      {"i":128,"v":34.6},{"i":129.1,"v":33.2},{"i":130.1,"v":33.2},{"i":131.2,"v":47.4},{"i":132.1,"v":56.8},{"i":133.1,"v":59.9},{"i":134.2,"v":63.6},{"i":135.1,"v":61.1},{"i":136,"v":66.2},{"i":136.9,"v":67.4},
      {"i":138.2,"v":69.6},{"i":139,"v":61.1},{"i":140.1,"v":61.6},{"i":141,"v":47.9},{"i":142.1,"v":45.2},{"i":143.1,"v":45.3},{"i":144,"v":48.8},{"i":145.1,"v":48.8},{"i":146.1,"v":48.6},{"i":147,"v":47.4},
      {"i":148,"v":49.9},{"i":148.9,"v":46.9},{"i":149.9,"v":43.8},{"i":150.9,"v":44.5},{"i":151.9,"v":41.9},{"i":153.1,"v":46.2},{"i":154.1,"v":55.1},{"i":155,"v":54.2},{"i":155.7,"v":52.5},
      {"i":156,"v":51.7},{"i":157,"v":51.1},{"i":157.8,"v":49.4},{"i":158.9,"v":49.6},{"i":160.1,"v":59.9},{"i":161,"v":55.4},{"i":162.1,"v":58.8},{"i":163,"v":64},{"i":164,"v":75.2},{"i":165.1,"v":75.9},
      {"i":166.2,"v":76.4},{"i":167.2,"v":79.5},{"i":168.1,"v":69.6},{"i":169.2,"v":64},{"i":170.2,"v":62.8},{"i":171.3,"v":64.5},{"i":172.3,"v":65.7},{"i":174,"v":71},{"i":175.2,"v":67},{"i":176.1,"v":64},
      {"i":176.9,"v":64.5},{"i":178,"v":62.4},{"i":178.9,"v":68.4},{"i":179.9,"v":68.2},{"i":180.9,"v":68.7},{"i":181.9,"v":57.3},{"i":183,"v":56.8},{"i":184,"v":56.8},{"i":185.1,"v":60.2},{"i":186.2,"v":66.2},
      {"i":187,"v":70.5},{"i":188.1,"v":71.7},{"i":189,"v":71.8},{"i":190.1,"v":73.9},{"i":191.1,"v":76.8},{"i":192.2,"v":72.7},{"i":193.3,"v":72.7},{"i":194.1,"v":71.8},{"i":195,"v":69.6},{"i":196.1,"v":69.6},
      {"i":197,"v":69.3},{"i":198.1,"v":72.2},{"i":198.9,"v":71.3},{"i":200,"v":73},{"i":200.9,"v":73},{"i":202,"v":61.9},{"i":202.8,"v":59.9},{"i":203.9,"v":56.8},{"i":205.2,"v":59},{"i":206.2,"v":57.6},
      {"i":207.1,"v":59},{"i":208,"v":62.3},{"i":209,"v":72.5},{"i":209.9,"v":58.8},{"i":210.9,"v":48.2},{"i":212.1,"v":45.7},{"i":213.1,"v":47.4},{"i":214.2,"v":47.9},{"i":215.1,"v":48.8},{"i":216.1,"v":54.7},
      {"i":217,"v":55.1},{"i":217.9,"v":53.4},{"i":218.9,"v":50.8},{"i":220,"v":48.2},{"i":221.1,"v":45.7},{"i":222,"v":40.5},{"i":223.1,"v":41.1},{"i":224.1,"v":41.4},{"i":225,"v":40},{"i":225.9,"v":46.2},
      {"i":227.2,"v":38.3},{"i":228,"v":34.9},{"i":229.1,"v":33.4},{"i":230,"v":33.7}
    ]
  },
  "vconcat": [
    {
      "width": 1338,
      "height": 420,
      "resolve": {"axis": {"x": "independent", "y": "independent"}},
      "layer": [
        {
          "data": {"name": "zone"},
          "mark": {"type": "rect", "color": "#dfe6fc"},
          "encoding": {
            "x": {"field": "x0", "type": "quantitative", "scale": {"domain": [-0.7, 284], "nice": false, "zero": false}, "axis": null},
            "x2": {"field": "x1"},
            "y": {"field": "p0", "type": "quantitative", "scale": {"domain": [1.13683, 1.19047], "nice": false, "zero": false},
              "axis": {"orient": "right", "values": [1.14, 1.15, 1.16, 1.18], "format": ".5f", "labelPadding": 14, "title": "USD", "titleAngle": 0, "titleAlign": "left", "titleBaseline": "middle", "titleX": 20, "titleY": 23, "titleFontSize": 17, "titleFontWeight": "normal", "titleColor": "#131722", "titleFont": "Noto Sans"}},
            "y2": {"field": "p1"}
          }
        },
        {
          "data": {"name": "ma"},
          "mark": {"type": "line", "strokeWidth": 3, "interpolate": "monotone"},
          "encoding": {
            "x": {"field": "i", "type": "quantitative", "scale": {"domain": [-0.7, 284], "nice": false, "zero": false}, "axis": null},
            "y": {"field": "p", "type": "quantitative", "scale": {"domain": [1.13683, 1.19047], "nice": false, "zero": false}, "axis": null},
            "color": {"field": "s", "type": "nominal", "scale": {"domain": ["MA100", "MA200"], "range": ["#1b4fa3", "#b71c1c"]}, "legend": null}
          }
        },
        {
          "data": {"name": "fib"},
          "mark": {"type": "rule", "color": "#1e222d", "strokeWidth": 2.5, "clip": true},
          "encoding": {
            "x": {"field": "from", "type": "quantitative", "scale": {"domain": [-0.7, 284], "nice": false, "zero": false}, "axis": null},
            "x2": {"datum": 284},
            "y": {"field": "p", "type": "quantitative", "scale": {"domain": [1.13683, 1.19047], "nice": false, "zero": false}, "axis": null}
          }
        },
        {
          "data": {"name": "fib"},
          "mark": {"type": "text", "align": "right", "baseline": "alphabetic", "dx": -8, "dy": -13, "fontSize": 17, "color": "#2a2e39", "font": "Noto Sans"},
          "encoding": {
            "x": {"datum": 284, "type": "quantitative", "scale": {"domain": [-0.7, 284], "nice": false, "zero": false}, "axis": null},
            "y": {"field": "p", "type": "quantitative", "scale": {"domain": [1.13683, 1.19047], "nice": false, "zero": false}, "axis": null},
            "text": {"field": "label"}
          }
        },
        {
          "data": {"name": "candles"},
          "mark": {"type": "rule", "color": "#000000", "strokeWidth": 1},
          "encoding": {
            "x": {"field": "i", "type": "quantitative", "scale": {"domain": [-0.7, 284], "nice": false, "zero": false}, "axis": null},
            "y": {"field": "l", "type": "quantitative", "scale": {"domain": [1.13683, 1.19047], "nice": false, "zero": false}, "axis": null},
            "y2": {"field": "h"}
          }
        },
        {
          "data": {"name": "candles"},
          "mark": {"type": "bar", "size": 3.2, "stroke": "#000000", "strokeWidth": 1},
          "encoding": {
            "x": {"field": "i", "type": "quantitative", "scale": {"domain": [-0.7, 284], "nice": false, "zero": false}, "axis": null},
            "y": {"field": "o", "type": "quantitative", "scale": {"domain": [1.13683, 1.19047], "nice": false, "zero": false}, "axis": null},
            "y2": {"field": "c"},
            "fill": {"condition": {"test": "datum.c >= datum.o", "value": "#22ab22"}, "value": "#ec1a66"}
          }
        },
        {
          "data": {"name": "trend"},
          "mark": {"type": "rule", "color": "#363a45", "strokeWidth": 2},
          "encoding": {
            "x": {"field": "x0", "type": "quantitative", "scale": {"domain": [-0.7, 284], "nice": false, "zero": false}, "axis": null},
            "x2": {"field": "x1"},
            "y": {"field": "p0", "type": "quantitative", "scale": {"domain": [1.13683, 1.19047], "nice": false, "zero": false}, "axis": null},
            "y2": {"field": "p1"}
          }
        },
        {
          "data": {"name": "last"},
          "mark": {"type": "rect", "color": "#3cb52c", "xOffset": 2, "x2Offset": 102, "yOffset": -13.5, "y2Offset": 13.5, "cornerRadius": 2},
          "encoding": {
            "x": {"datum": 284, "type": "quantitative", "scale": {"domain": [-0.7, 284], "nice": false, "zero": false}, "axis": null},
            "x2": {"datum": 284},
            "y": {"field": "p", "type": "quantitative", "scale": {"domain": [1.13683, 1.19047], "nice": false, "zero": false}, "axis": null},
            "y2": {"field": "p"}
          }
        },
        {
          "data": {"name": "last"},
          "mark": {"type": "text", "color": "#ffffff", "fontSize": 19.5, "dx": 52, "align": "center", "baseline": "middle", "font": "Noto Sans"},
          "encoding": {
            "x": {"datum": 284, "type": "quantitative", "scale": {"domain": [-0.7, 284], "nice": false, "zero": false}, "axis": null},
            "y": {"field": "p", "type": "quantitative", "scale": {"domain": [1.13683, 1.19047], "nice": false, "zero": false}, "axis": null},
            "text": {"field": "t"}
          }
        }
      ]
    },
    {
      "width": 1338,
      "height": 144,
      "resolve": {"axis": {"x": "independent", "y": "independent"}},
      "layer": [
        {
          "data": {"values": [{"lo": 20, "hi": 80}]},
          "mark": {"type": "rect", "color": "#e9d3fb"},
          "encoding": {
            "x": {"datum": -0.7, "type": "quantitative", "scale": {"domain": [-0.7, 284], "nice": false, "zero": false}, "axis": null},
            "x2": {"datum": 284},
            "y": {"field": "lo", "type": "quantitative", "scale": {"domain": [-8, 107.2], "nice": false, "zero": false},
              "axis": {"orient": "right", "values": [0, 50, 100], "format": ".2f", "labelPadding": 14, "labelFontSize": 19, "title": null}},
            "y2": {"field": "hi"}
          }
        },
        {
          "data": {"values": [{"v": 20}, {"v": 80}]},
          "mark": {"type": "rule", "color": "#5d606b", "strokeWidth": 1, "strokeDash": [5, 4]},
          "encoding": {
            "y": {"field": "v", "type": "quantitative", "scale": {"domain": [-8, 107.2], "nice": false, "zero": false}, "axis": null}
          }
        },
        {
          "data": {"name": "k"},
          "mark": {"type": "line", "color": "#2196f3", "strokeWidth": 1.5},
          "encoding": {
            "x": {"field": "i", "type": "quantitative", "scale": {"domain": [-0.7, 284], "nice": false, "zero": false}, "axis": null},
            "y": {"field": "v", "type": "quantitative", "scale": {"domain": [-8, 107.2], "nice": false, "zero": false}, "axis": null}
          }
        },
        {
          "data": {"name": "d"},
          "mark": {"type": "line", "color": "#ff6d00", "strokeWidth": 1.5},
          "encoding": {
            "x": {"field": "i", "type": "quantitative", "scale": {"domain": [-0.7, 284], "nice": false, "zero": false}, "axis": null},
            "y": {"field": "v", "type": "quantitative", "scale": {"domain": [-8, 107.2], "nice": false, "zero": false}, "axis": null}
          }
        }
      ]
    },
    {
      "width": 1338,
      "height": 142,
      "resolve": {"axis": {"x": "independent", "y": "independent"}},
      "layer": [
        {
          "data": {"values": [{"lo": 30, "hi": 70}]},
          "mark": {"type": "rect", "color": "#f4e6fd"},
          "encoding": {
            "x": {"datum": -0.7, "type": "quantitative", "scale": {"domain": [-0.7, 284], "nice": false, "zero": false}, "axis": null},
            "x2": {"datum": 284},
            "y": {"field": "lo", "type": "quantitative", "scale": {"domain": [14.36, 87.18], "nice": false, "zero": false},
              "axis": {"orient": "right", "values": [40, 80], "format": ".2f", "labelPadding": 14, "labelFontSize": 19, "title": null}},
            "y2": {"field": "hi"}
          }
        },
        {
          "data": {"values": [{"v": 30}, {"v": 70}]},
          "mark": {"type": "rule", "color": "#b2b5be", "strokeWidth": 1, "strokeDash": [5, 4]},
          "encoding": {
            "y": {"field": "v", "type": "quantitative", "scale": {"domain": [14.36, 87.18], "nice": false, "zero": false}, "axis": null}
          }
        },
        {
          "data": {"name": "rsi"},
          "mark": {"type": "line", "color": "#8e24aa", "strokeWidth": 1.5},
          "encoding": {
            "x": {"field": "i", "type": "quantitative", "scale": {"domain": [-0.7, 284], "nice": false, "zero": false},
              "axis": {"values": [2, 22, 46, 70, 92, 112, 136, 160, 182, 202, 226, 268], "labelExpr": "datum.value==2?'Mar':datum.value==22?'5':datum.value==46?'11':datum.value==70?'17':datum.value==92?'22':datum.value==112?'26':datum.value==136?'Apr':datum.value==160?'7':datum.value==182?'12':datum.value==202?'16':datum.value==226?'22':'May'", "labelPadding": 14, "labelColor": "#4a4a4a", "domainColor": "#4a4a4a", "title": null}},
            "y": {"field": "v", "type": "quantitative", "scale": {"domain": [14.36, 87.18], "nice": false, "zero": false}, "axis": null}
          }
        }
      ]
    }
  ]
}
